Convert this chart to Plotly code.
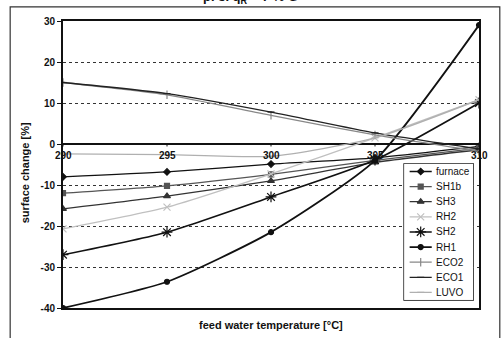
import plotly.graph_objects as go

x_temps = [290, 295, 300, 305, 310]
x_tick_labels = ["290", "295", "300", "305", "310"]
y_ticks = [-40, -30, -20, -10, 0, 10, 20, 30]

furnace = [-8.0, -6.8, -4.9, -3.4, -0.6]
sh1b = [-12.0, -10.2, -7.4, -4.0, -1.0]
sh3 = [-15.8, -12.7, -9.0, -4.5, -1.4]
rh2 = [-20.7, -15.4, -7.3, 1.5, 10.8]
sh2 = [-27.0, -21.5, -12.9, -3.9, 10.0]
rh1 = [-40.0, -33.6, -21.5, -4.0, 29.0]
eco2 = [15.0, 12.0, 7.0, 2.2, -1.8]
eco1 = [15.0, 12.3, 7.8, 2.7, -1.2]
luvo = [-2.4, -2.6, -3.0, 1.5, 10.8]

legend_names = ["furnace", "SH1b", "SH3", "RH2", "SH2", "RH1", "ECO2", "ECO1", "LUVO"]

series = [
    (furnace, "#111111", 1.3, "diamond", 5),
    (sh1b, "#555555", 1.3, "square", 5),
    (sh3, "#333333", 1.3, "triangle-up", 6),
    (rh2, "#c0c0c0", 1.3, "x-thin-open", 7),
    (sh2, "#111111", 1.6, "asterisk-open", 9),
    (rh1, "#111111", 1.8, "circle", 5),
    (eco2, "#888888", 1.3, "line-ns-open", 6),
    (eco1, "#222222", 1.3, "line-ew-open", 5),
    (luvo, "#b0b0b0", 1.3, "line-ew-open", 5),
]

FONT = "Arial, Liberation Sans, sans-serif"
fig = go.Figure()
for name, (vals, col, w, sym, sz) in zip(legend_names, series):
    fig.add_trace(go.Scatter(
        x=x_temps, y=vals, name=name, mode="lines+markers", showlegend=False,
        line=dict(color=col, width=w, shape="spline", smoothing=0.6),
        marker=dict(symbol=sym, size=sz, color=col, line=dict(color=col, width=1.2)),
    ))

# custom compact legend in its own small axes
n = len(legend_names)
for i, (name, (vals, col, w, sym, sz)) in enumerate(zip(legend_names, series)):
    yy = 1 - (i + 0.5) / n
    fig.add_trace(go.Scatter(
        x=[0.08, 0.24, 0.40], y=[yy, yy, yy], mode="lines", showlegend=False,
        line=dict(color=col, width=w), xaxis="x2", yaxis="y2", hoverinfo="skip"))
    fig.add_trace(go.Scatter(
        x=[0.24], y=[yy], mode="markers", showlegend=False,
        marker=dict(symbol=sym, size=sz, color=col, line=dict(color=col, width=1.2)),
        xaxis="x2", yaxis="y2", hoverinfo="skip"))
    fig.add_annotation(x=0.43, y=yy, xref="x2", yref="y2", text=name, showarrow=False,
                       xanchor="left", yanchor="middle",
                       font=dict(family=FONT, size=10, color="#111111"))

fig.add_shape(type="rect", xref="paper", yref="paper", x0=0.820, x1=0.986, y0=0.028, y1=0.502,
              line=dict(color="#111111", width=1.5), fillcolor="white", layer="between")

font_bold = dict(family=FONT, size=10, color="#111111")

# x tick labels on the zero line
for xv, lab in zip(x_temps, x_tick_labels):
    fig.add_annotation(x=xv, y=0, xref="x", yref="y", text="<b>" + lab + "</b>",
                       showarrow=False, yshift=-11, font=font_bold)
    fig.add_shape(type="line", xref="x", yref="y", x0=xv, x1=xv, y0=0, y1=-0.6,
                  line=dict(color="#111111", width=1))

# axis titles
fig.add_annotation(xref="paper", yref="paper", x=0.5, y=-0.059, yanchor="middle",
                   text="<b>feed water temperature [°C]</b>", showarrow=False,
                   font=dict(family=FONT, size=11, color="#111111"))
fig.add_annotation(xref="paper", yref="paper", x=-0.091, y=0.47, xanchor="center", yanchor="middle",
                   text="<b>surface change [%]</b>", showarrow=False, textangle=-90,
                   font=dict(family=FONT, size=11, color="#111111"))

# partial title at top (cropped as in the original)
fig.add_annotation(xref="paper", yref="paper", x=0.45, y=1.0, yanchor="bottom", yshift=13,
                   text="<b>p. s. q<sub>R</sub> = 7 % G</b>", showarrow=False,
                   font=dict(family=FONT, size=13, color="#111111"))

# outer chart border
fig.add_shape(type="rect", xref="paper", yref="paper", x0=-0.127, x1=1.050, y0=-0.2, y1=1.049,
              line=dict(color="#333333", width=1.2))

fig.update_layout(
    width=502, height=338,
    margin=dict(l=63, r=23, t=21, b=30),
    paper_bgcolor="white", plot_bgcolor="white",
    showlegend=False,
    xaxis=dict(range=[290, 310], showticklabels=False, ticks="", showgrid=False, automargin=False,
               showline=True, linecolor="#111111", linewidth=2, mirror=True, zeroline=False),
    yaxis=dict(range=[-40, 30], tickvals=y_ticks, automargin=False,
               ticktext=["<b>%d</b>" % v for v in y_ticks],
               ticks="outside", ticklen=4, tickcolor="#111111",
               tickfont=font_bold,
               showgrid=True, gridcolor="#333333", griddash="dot", gridwidth=1,
               zeroline=True, zerolinecolor="#111111", zerolinewidth=2,
               showline=True, linecolor="#111111", linewidth=2, mirror=True),
    xaxis2=dict(domain=[0.820, 0.986], range=[0, 1], anchor="y2", visible=False, fixedrange=True),
    yaxis2=dict(domain=[0.028, 0.502], range=[0, 1], anchor="x2", visible=False, fixedrange=True),
)

fig.write_html("out.html")
